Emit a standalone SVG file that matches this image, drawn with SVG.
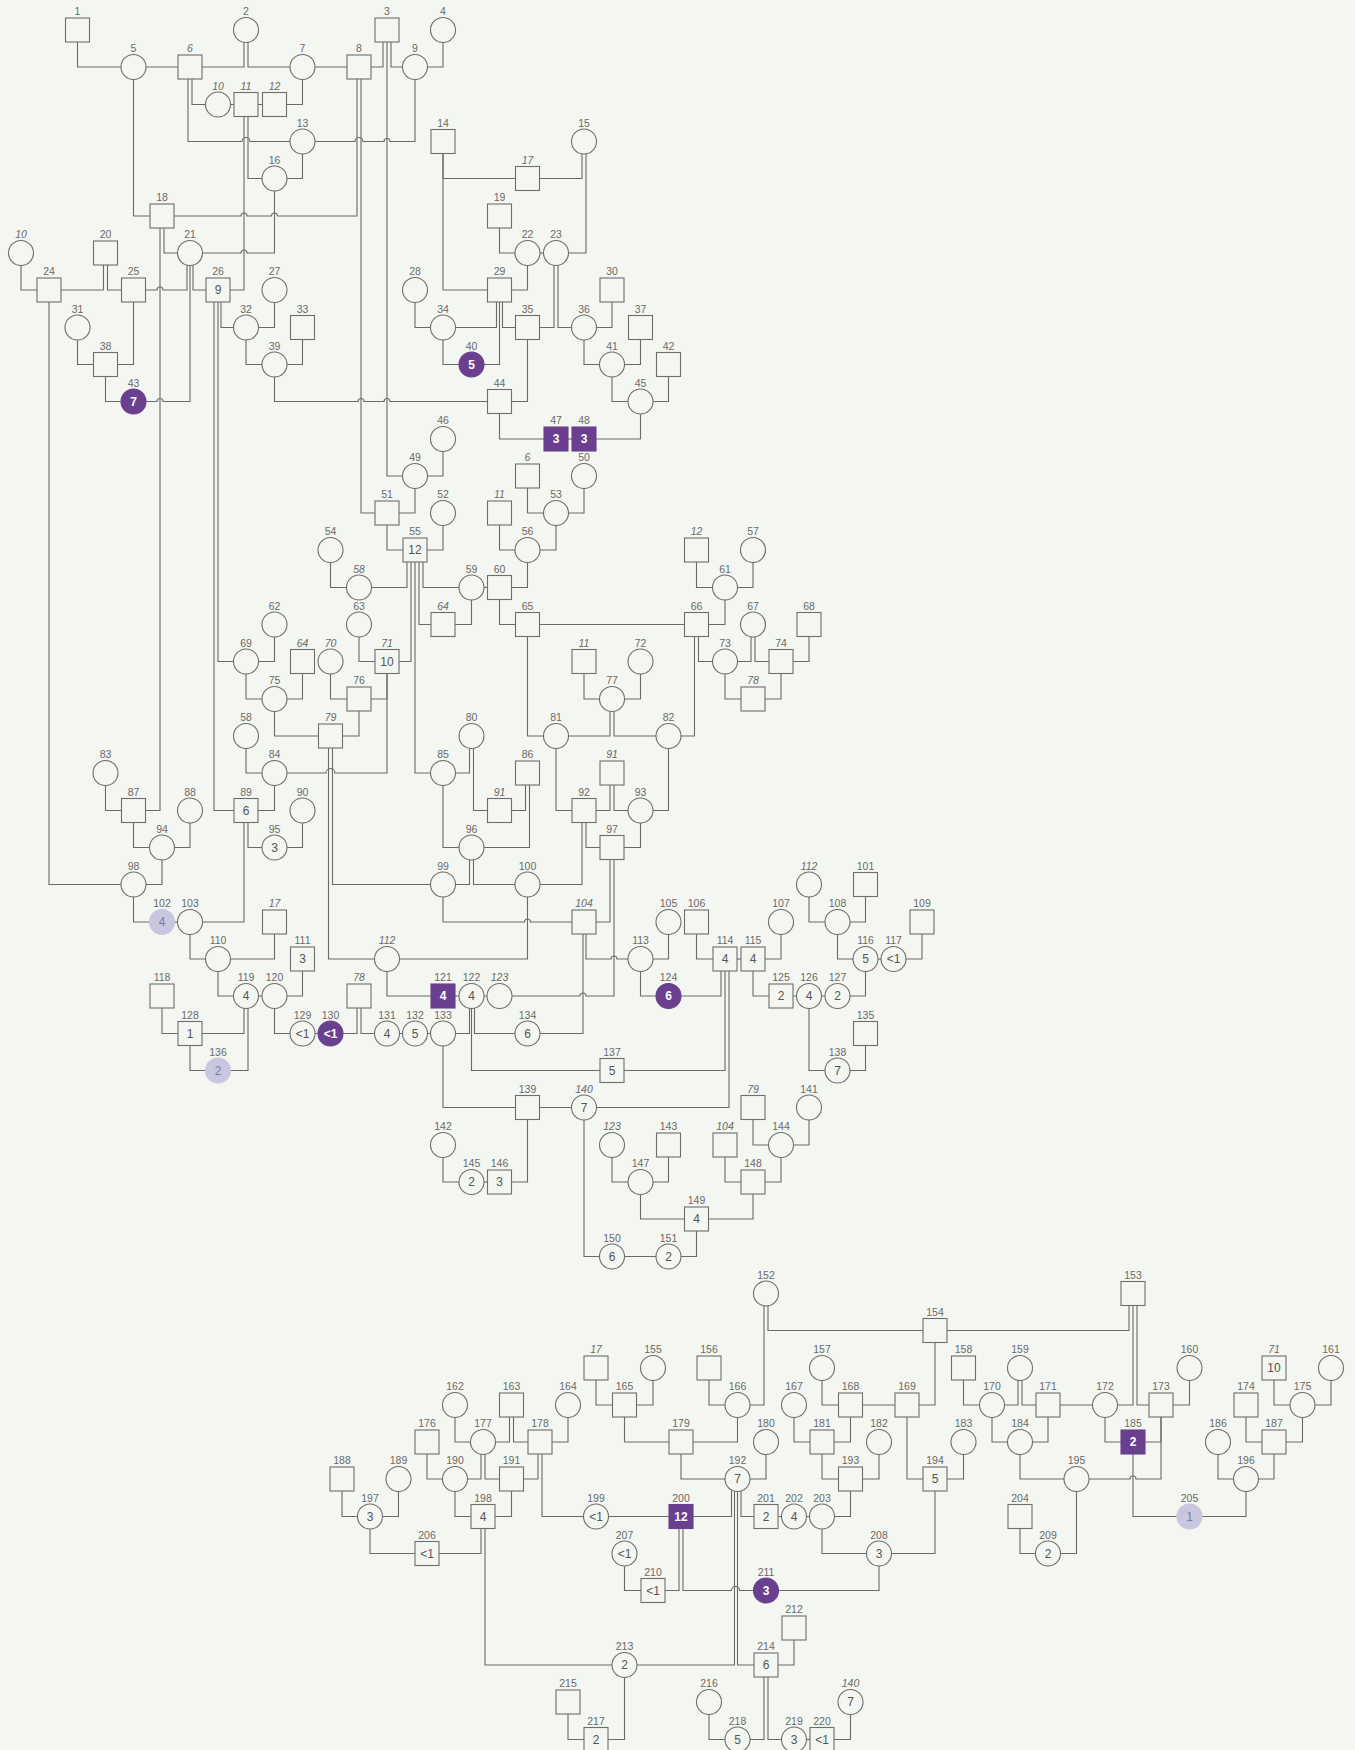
<svg xmlns="http://www.w3.org/2000/svg" xmlns:xlink="http://www.w3.org/1999/xlink" width="1355" height="1750" viewBox="0 0 1355 1750">
<style>
.bg{fill:#f4f6f1}
#links path{fill:none;stroke:#6a6a6a;stroke-width:1.1}
use{fill:#f4f6f1;stroke:#6e6e6e;stroke-width:1.1}
use.pp{fill:#6b3f8f;stroke:#6b3f8f}
use.lv{fill:#c9c7df;stroke:#c9c7df}
text{font-family:"Liberation Sans",Arial,sans-serif;font-size:10.5px;fill:#6a6a6a;text-anchor:middle}
text.i{font-style:italic}
text.v{font-size:12px;fill:#555}
text.w{font-size:12px;fill:#fff;font-weight:bold}
text.lt{font-size:12px;fill:#7c7aa2}
</style>
<defs>
<rect id="S" x="-12" y="-12" width="24" height="24"/>
<circle id="C" r="12.5"/>
</defs>
<rect class="bg" x="0" y="0" width="1355" height="1750"/>
<g id="links">
<path d="M77.5 30V67H133.5"/>
<path d="M133.5 67H190"/>
<path d="M244 30V67H190"/>
<path d="M248 30V67H302.5"/>
<path d="M302.5 67H359"/>
<path d="M383 30V67H359"/>
<path d="M391 30V67H415"/>
<path d="M387 30V476H415"/>
<path d="M443 30V67H415"/>
<path d="M192 67V104.5H218"/>
<path d="M188 67V141.5H242a4 4 0 0 1 8 0H302.5"/>
<path d="M218 104.5H274.5"/>
<path d="M302.5 67V104.5H274.5"/>
<path d="M248 104.5V178.5H274.5"/>
<path d="M244 104.5V290H218"/>
<path d="M415 67V141.5H390a3 3 0 0 0 -6 0H363a4 4 0 0 0 -8 0H302.5"/>
<path d="M302.5 141.5V178.5H274.5"/>
<path d="M274.5 178.5V253H247a3 3 0 0 0 -6 0H190"/>
<path d="M133.5 67V216H162"/>
<path d="M357 67V216H277.5a3 3 0 0 0 -6 0H247a3 3 0 0 0 -6 0H162"/>
<path d="M361 67V513H387"/>
<path d="M164 216V253H190"/>
<path d="M160 216V810.5H133.5"/>
<path d="M187 253V290H163a3 3 0 0 0 -6 0H133.5"/>
<path d="M190 253V401.5H163a3 3 0 0 0 -6 0H133.5"/>
<path d="M193 253V290H218"/>
<path d="M21 253V290H49"/>
<path d="M103.5 253V290H49"/>
<path d="M107.5 253V290H133.5"/>
<path d="M49 290V884.5H133.5"/>
<path d="M77.5 327.5V364.5H105.5"/>
<path d="M133.5 290V364.5H105.5"/>
<path d="M105.5 364.5V401.5H133.5"/>
<path d="M221 290V327.5H246"/>
<path d="M218 290V661.5H246"/>
<path d="M214 290V810.5H246"/>
<path d="M274.5 290V327.5H246"/>
<path d="M246 327.5V364.5H274.5"/>
<path d="M302.5 327.5V364.5H274.5"/>
<path d="M274.5 364.5V401.5H358a3 3 0 0 1 6 0H384a3 3 0 0 1 6 0H499.5"/>
<path d="M443 141.5V178.5H527.5"/>
<path d="M443 141.5V290H499.5"/>
<path d="M582 141.5V178.5H527.5"/>
<path d="M586 141.5V253H556"/>
<path d="M499.5 216V253H527.5"/>
<path d="M527.5 253H556"/>
<path d="M527.5 253V290H499.5"/>
<path d="M554 253V327.5H527.5"/>
<path d="M558 253V327.5H584"/>
<path d="M415 290V327.5H443"/>
<path d="M496.5 290V327.5H443"/>
<path d="M499.5 290V364.5H471.5"/>
<path d="M502.5 290V327.5H527.5"/>
<path d="M443 327.5V364.5H471.5"/>
<path d="M612 290V327.5H584"/>
<path d="M584 327.5V364.5H612"/>
<path d="M640.5 327.5V364.5H612"/>
<path d="M612 364.5V401.5H640.5"/>
<path d="M668.5 364.5V401.5H640.5"/>
<path d="M527.5 327.5V401.5H499.5"/>
<path d="M499.5 401.5V439H556"/>
<path d="M556 439H584"/>
<path d="M640.5 401.5V439H584"/>
<path d="M443 439V476H415"/>
<path d="M415 476V513H387"/>
<path d="M387 513V550H415"/>
<path d="M443 513V550H415"/>
<path d="M407 550V587.5H359"/>
<path d="M411 550V661.5H387"/>
<path d="M415 550V773H443"/>
<path d="M419 550V624.5H443"/>
<path d="M423 550V587.5H471.5"/>
<path d="M330.5 550V587.5H359"/>
<path d="M527.5 476V513H556"/>
<path d="M584 476V513H556"/>
<path d="M499.5 513V550H527.5"/>
<path d="M556 513V550H527.5"/>
<path d="M527.5 550V587.5H499.5"/>
<path d="M471.5 587.5H499.5"/>
<path d="M471.5 587.5V624.5H443"/>
<path d="M499.5 587.5V624.5H527.5"/>
<path d="M527.5 624.5H696.5"/>
<path d="M696.5 550V587.5H725"/>
<path d="M753 550V587.5H725"/>
<path d="M725 587.5V624.5H696.5"/>
<path d="M698.5 624.5V661.5H725"/>
<path d="M694.5 624.5V736H668.5"/>
<path d="M751 624.5V661.5H725"/>
<path d="M755 624.5V661.5H781"/>
<path d="M809 624.5V661.5H781"/>
<path d="M725 661.5V699H753"/>
<path d="M781 661.5V699H753"/>
<path d="M527.5 624.5V736H556"/>
<path d="M584 661.5V699H612"/>
<path d="M640.5 661.5V699H612"/>
<path d="M610 699V736H556"/>
<path d="M614 699V736H668.5"/>
<path d="M556 736V810.5H584"/>
<path d="M668.5 736V810.5H640.5"/>
<path d="M610 773V810.5H584"/>
<path d="M614 773V810.5H640.5"/>
<path d="M586 810.5V847.5H612"/>
<path d="M582 810.5V884.5H527.5"/>
<path d="M640.5 810.5V847.5H612"/>
<path d="M610 847.5V922H584"/>
<path d="M614 847.5V996H586a3 3 0 0 0 -6 0H499.5"/>
<path d="M586 922V959H611a3 3 0 0 1 6 0H640.5"/>
<path d="M583 922V1033.5H527.5"/>
<path d="M443 773V847.5H471.5"/>
<path d="M469.5 736V773H443"/>
<path d="M473.5 736V810.5H499.5"/>
<path d="M525.5 773V810.5H499.5"/>
<path d="M529.5 773V847.5H471.5"/>
<path d="M469.5 847.5V884.5H443"/>
<path d="M473.5 847.5V884.5H527.5"/>
<path d="M443 884.5V922H524.5a3 3 0 0 1 6 0H584"/>
<path d="M527.5 884.5V959H387"/>
<path d="M332.5 736V884.5H443"/>
<path d="M328.5 736V959H387"/>
<path d="M387 661.5V773H335a4.5 4.5 0 0 0 -9 0H274.5"/>
<path d="M387 661.5V699H359"/>
<path d="M246 736V773H274.5"/>
<path d="M274.5 624.5V661.5H246"/>
<path d="M246 661.5V699H274.5"/>
<path d="M302.5 661.5V699H274.5"/>
<path d="M274.5 699V736H330.5"/>
<path d="M330.5 661.5V699H359"/>
<path d="M359 624.5V661.5H387"/>
<path d="M359 699V736H330.5"/>
<path d="M274.5 773V810.5H246"/>
<path d="M248 810.5V847.5H274.5"/>
<path d="M244 810.5V922H190"/>
<path d="M302.5 810.5V847.5H274.5"/>
<path d="M105.5 773V810.5H133.5"/>
<path d="M133.5 810.5V847.5H162"/>
<path d="M190 810.5V847.5H162"/>
<path d="M162 847.5V884.5H133.5"/>
<path d="M133.5 884.5V922H162"/>
<path d="M162 922H190"/>
<path d="M190 922V959H218"/>
<path d="M274.5 922V959H218"/>
<path d="M218 959V996H246"/>
<path d="M246 996H274.5"/>
<path d="M302.5 959V996H274.5"/>
<path d="M244 996V1033.5H190"/>
<path d="M248 996V1070.5H218"/>
<path d="M162 996V1033.5H190"/>
<path d="M190 1033.5V1070.5H218"/>
<path d="M274.5 996V1033.5H302.5"/>
<path d="M302.5 1033.5H330.5"/>
<path d="M357 996V1033.5H330.5"/>
<path d="M361 996V1033.5H387"/>
<path d="M387 1033.5H443"/>
<path d="M387 959V996H443"/>
<path d="M443 996H499.5"/>
<path d="M469.5 996V1033.5H443"/>
<path d="M471.5 996V1070.5H612"/>
<path d="M474.5 996V1033.5H527.5"/>
<path d="M443 1033.5V1107.5H527.5"/>
<path d="M527.5 1107.5H584"/>
<path d="M721 959V996H668.5"/>
<path d="M725 959V1070.5H612"/>
<path d="M729 959V1107.5H584"/>
<path d="M696.5 922V959H725"/>
<path d="M725 959H753"/>
<path d="M781 922V959H753"/>
<path d="M753 959V996H781"/>
<path d="M781 996H837.5"/>
<path d="M865.5 959V996H837.5"/>
<path d="M809 884.5V922H837.5"/>
<path d="M865.5 884.5V922H837.5"/>
<path d="M837.5 922V959H865.5"/>
<path d="M865.5 959H893.5"/>
<path d="M922 922V959H893.5"/>
<path d="M809 996V1070.5H837.5"/>
<path d="M865.5 1033.5V1070.5H837.5"/>
<path d="M668.5 922V959H640.5"/>
<path d="M640.5 959V996H668.5"/>
<path d="M527.5 1107.5V1182H499.5"/>
<path d="M443 1145V1182H471.5"/>
<path d="M471.5 1182H499.5"/>
<path d="M584 1107.5V1256.5H612"/>
<path d="M612 1256.5H668.5"/>
<path d="M696.5 1219V1256.5H668.5"/>
<path d="M612 1145V1182H640.5"/>
<path d="M668.5 1145V1182H640.5"/>
<path d="M640.5 1182V1219H696.5"/>
<path d="M753 1182V1219H696.5"/>
<path d="M725 1145V1182H753"/>
<path d="M781 1145V1182H753"/>
<path d="M753 1107.5V1145H781"/>
<path d="M809 1107.5V1145H781"/>
<path d="M768 1293.5V1330.5H935"/>
<path d="M764 1293.5V1405H737.5"/>
<path d="M1129 1293.5V1330.5H935"/>
<path d="M1133 1293.5V1405H1105"/>
<path d="M1137 1293.5V1405H1161"/>
<path d="M596 1368V1405H624.5"/>
<path d="M653 1368V1405H624.5"/>
<path d="M624.5 1405V1442H681"/>
<path d="M709 1368V1405H737.5"/>
<path d="M737.5 1405V1442H681"/>
<path d="M681 1442V1479H737.5"/>
<path d="M766 1442V1479H737.5"/>
<path d="M731.5 1479V1516.5H681"/>
<path d="M734.5 1479V1665H624.5"/>
<path d="M737.5 1479V1665H766"/>
<path d="M741 1479V1516.5H766"/>
<path d="M679 1516.5V1590.5H653"/>
<path d="M683 1516.5V1590.5H731.5a4 4 0 0 1 8 0H766"/>
<path d="M596 1516.5H681"/>
<path d="M542 1442V1516.5H596"/>
<path d="M538 1442V1479H511.5"/>
<path d="M624.5 1553.5V1590.5H653"/>
<path d="M766 1516.5H822"/>
<path d="M850.5 1479V1516.5H822"/>
<path d="M822 1442V1479H850.5"/>
<path d="M879 1442V1479H850.5"/>
<path d="M794 1405V1442H822"/>
<path d="M850.5 1405V1442H822"/>
<path d="M822 1368V1405H850.5"/>
<path d="M850.5 1405H907"/>
<path d="M935 1330.5V1405H907"/>
<path d="M907 1405V1479H935"/>
<path d="M963.5 1442V1479H935"/>
<path d="M935 1479V1553.5H879"/>
<path d="M822 1516.5V1553.5H879"/>
<path d="M879 1553.5V1590.5H766"/>
<path d="M794 1628V1665H766"/>
<path d="M481 1516.5V1553.5H427"/>
<path d="M485 1516.5V1665H624.5"/>
<path d="M370 1516.5V1553.5H427"/>
<path d="M342 1479V1516.5H370"/>
<path d="M398.5 1479V1516.5H370"/>
<path d="M455 1479V1516.5H483"/>
<path d="M511.5 1479V1516.5H483"/>
<path d="M427 1442V1479H455"/>
<path d="M481 1442V1479H455"/>
<path d="M485 1442V1479H511.5"/>
<path d="M455 1405V1442H483"/>
<path d="M509.5 1405V1442H483"/>
<path d="M513.5 1405V1442H540"/>
<path d="M568 1405V1442H540"/>
<path d="M624.5 1665V1739.5H596"/>
<path d="M568 1702V1739.5H596"/>
<path d="M764 1665V1739.5H737.5"/>
<path d="M768 1665V1739.5H794"/>
<path d="M709 1702V1739.5H737.5"/>
<path d="M794 1739.5H822"/>
<path d="M850.5 1702V1739.5H822"/>
<path d="M963.5 1368V1405H992"/>
<path d="M1018 1368V1405H992"/>
<path d="M1022 1368V1405H1048"/>
<path d="M992 1405V1442H1020"/>
<path d="M1048 1405V1442H1020"/>
<path d="M1048 1405H1105"/>
<path d="M1105 1405V1442H1133"/>
<path d="M1161 1405V1442H1133"/>
<path d="M1161 1405V1479H1136a3 3 0 0 0 -6 0H1076.5"/>
<path d="M1189.5 1368V1405H1161"/>
<path d="M1020 1442V1479H1076.5"/>
<path d="M1133 1442V1516.5H1189.5"/>
<path d="M1246 1479V1516.5H1189.5"/>
<path d="M1218 1442V1479H1246"/>
<path d="M1274 1442V1479H1246"/>
<path d="M1246 1405V1442H1274"/>
<path d="M1302.5 1405V1442H1274"/>
<path d="M1274 1368V1405H1302.5"/>
<path d="M1331 1368V1405H1302.5"/>
<path d="M1076.5 1479V1553.5H1048"/>
<path d="M1020 1516.5V1553.5H1048"/>
</g>
<g id="n1"><use href="#S" x="77.5" y="30"/><text x="77.5" y="15">1</text></g>
<g id="n2"><use href="#C" x="246" y="30"/><text x="246" y="15">2</text></g>
<g id="n3"><use href="#S" x="387" y="30"/><text x="387" y="15">3</text></g>
<g id="n4"><use href="#C" x="443" y="30"/><text x="443" y="15">4</text></g>
<g id="n5"><use href="#C" x="133.5" y="67"/><text x="133.5" y="52">5</text></g>
<g id="n6"><use href="#S" x="190" y="67"/><text class="i" x="190" y="52">6</text></g>
<g id="n7"><use href="#C" x="302.5" y="67"/><text x="302.5" y="52">7</text></g>
<g id="n8"><use href="#S" x="359" y="67"/><text x="359" y="52">8</text></g>
<g id="n9"><use href="#C" x="415" y="67"/><text x="415" y="52">9</text></g>
<g id="n10"><use href="#C" x="218" y="104.5"/><text class="i" x="218" y="89.5">10</text></g>
<g id="n11"><use href="#S" x="246" y="104.5"/><text class="i" x="246" y="89.5">11</text></g>
<g id="n12"><use href="#S" x="274.5" y="104.5"/><text class="i" x="274.5" y="89.5">12</text></g>
<g id="n13"><use href="#C" x="302.5" y="141.5"/><text x="302.5" y="126.5">13</text></g>
<g id="n14"><use href="#S" x="443" y="141.5"/><text x="443" y="126.5">14</text></g>
<g id="n15"><use href="#C" x="584" y="141.5"/><text x="584" y="126.5">15</text></g>
<g id="n16"><use href="#C" x="274.5" y="178.5"/><text x="274.5" y="163.5">16</text></g>
<g id="n17"><use href="#S" x="527.5" y="178.5"/><text class="i" x="527.5" y="163.5">17</text></g>
<g id="n18"><use href="#S" x="162" y="216"/><text x="162" y="201">18</text></g>
<g id="n19"><use href="#S" x="499.5" y="216"/><text x="499.5" y="201">19</text></g>
<g id="n10b"><use href="#C" x="21" y="253"/><text class="i" x="21" y="238">10</text></g>
<g id="n20"><use href="#S" x="105.5" y="253"/><text x="105.5" y="238">20</text></g>
<g id="n21"><use href="#C" x="190" y="253"/><text x="190" y="238">21</text></g>
<g id="n22"><use href="#C" x="527.5" y="253"/><text x="527.5" y="238">22</text></g>
<g id="n23"><use href="#C" x="556" y="253"/><text x="556" y="238">23</text></g>
<g id="n24"><use href="#S" x="49" y="290"/><text x="49" y="275">24</text></g>
<g id="n25"><use href="#S" x="133.5" y="290"/><text x="133.5" y="275">25</text></g>
<g id="n26"><use href="#S" x="218" y="290"/><text x="218" y="275">26</text><text class="v" x="218" y="294.2">9</text></g>
<g id="n27"><use href="#C" x="274.5" y="290"/><text x="274.5" y="275">27</text></g>
<g id="n28"><use href="#C" x="415" y="290"/><text x="415" y="275">28</text></g>
<g id="n29"><use href="#S" x="499.5" y="290"/><text x="499.5" y="275">29</text></g>
<g id="n30"><use href="#S" x="612" y="290"/><text x="612" y="275">30</text></g>
<g id="n31"><use href="#C" x="77.5" y="327.5"/><text x="77.5" y="312.5">31</text></g>
<g id="n32"><use href="#C" x="246" y="327.5"/><text x="246" y="312.5">32</text></g>
<g id="n33"><use href="#S" x="302.5" y="327.5"/><text x="302.5" y="312.5">33</text></g>
<g id="n34"><use href="#C" x="443" y="327.5"/><text x="443" y="312.5">34</text></g>
<g id="n35"><use href="#S" x="527.5" y="327.5"/><text x="527.5" y="312.5">35</text></g>
<g id="n36"><use href="#C" x="584" y="327.5"/><text x="584" y="312.5">36</text></g>
<g id="n37"><use href="#S" x="640.5" y="327.5"/><text x="640.5" y="312.5">37</text></g>
<g id="n38"><use href="#S" x="105.5" y="364.5"/><text x="105.5" y="349.5">38</text></g>
<g id="n39"><use href="#C" x="274.5" y="364.5"/><text x="274.5" y="349.5">39</text></g>
<g id="n40"><use class="pp" href="#C" x="471.5" y="364.5"/><text x="471.5" y="349.5">40</text><text class="w" x="471.5" y="368.7">5</text></g>
<g id="n41"><use href="#C" x="612" y="364.5"/><text x="612" y="349.5">41</text></g>
<g id="n42"><use href="#S" x="668.5" y="364.5"/><text x="668.5" y="349.5">42</text></g>
<g id="n43"><use class="pp" href="#C" x="133.5" y="401.5"/><text x="133.5" y="386.5">43</text><text class="w" x="133.5" y="405.7">7</text></g>
<g id="n44"><use href="#S" x="499.5" y="401.5"/><text x="499.5" y="386.5">44</text></g>
<g id="n45"><use href="#C" x="640.5" y="401.5"/><text x="640.5" y="386.5">45</text></g>
<g id="n46"><use href="#C" x="443" y="439"/><text x="443" y="424">46</text></g>
<g id="n47"><use class="pp" href="#S" x="556" y="439"/><text x="556" y="424">47</text><text class="w" x="556" y="443.2">3</text></g>
<g id="n48"><use class="pp" href="#S" x="584" y="439"/><text x="584" y="424">48</text><text class="w" x="584" y="443.2">3</text></g>
<g id="n49"><use href="#C" x="415" y="476"/><text x="415" y="461">49</text></g>
<g id="n6b"><use href="#S" x="527.5" y="476"/><text class="i" x="527.5" y="461">6</text></g>
<g id="n50"><use href="#C" x="584" y="476"/><text x="584" y="461">50</text></g>
<g id="n51"><use href="#S" x="387" y="513"/><text x="387" y="498">51</text></g>
<g id="n52"><use href="#C" x="443" y="513"/><text x="443" y="498">52</text></g>
<g id="n11b"><use href="#S" x="499.5" y="513"/><text class="i" x="499.5" y="498">11</text></g>
<g id="n53"><use href="#C" x="556" y="513"/><text x="556" y="498">53</text></g>
<g id="n54"><use href="#C" x="330.5" y="550"/><text x="330.5" y="535">54</text></g>
<g id="n55"><use href="#S" x="415" y="550"/><text x="415" y="535">55</text><text class="v" x="415" y="554.2">12</text></g>
<g id="n56"><use href="#C" x="527.5" y="550"/><text x="527.5" y="535">56</text></g>
<g id="n12b"><use href="#S" x="696.5" y="550"/><text class="i" x="696.5" y="535">12</text></g>
<g id="n57"><use href="#C" x="753" y="550"/><text x="753" y="535">57</text></g>
<g id="n58b"><use href="#C" x="359" y="587.5"/><text class="i" x="359" y="572.5">58</text></g>
<g id="n59"><use href="#C" x="471.5" y="587.5"/><text x="471.5" y="572.5">59</text></g>
<g id="n60"><use href="#S" x="499.5" y="587.5"/><text x="499.5" y="572.5">60</text></g>
<g id="n61"><use href="#C" x="725" y="587.5"/><text x="725" y="572.5">61</text></g>
<g id="n62"><use href="#C" x="274.5" y="624.5"/><text x="274.5" y="609.5">62</text></g>
<g id="n63"><use href="#C" x="359" y="624.5"/><text x="359" y="609.5">63</text></g>
<g id="n64b"><use href="#S" x="443" y="624.5"/><text class="i" x="443" y="609.5">64</text></g>
<g id="n65"><use href="#S" x="527.5" y="624.5"/><text x="527.5" y="609.5">65</text></g>
<g id="n66"><use href="#S" x="696.5" y="624.5"/><text x="696.5" y="609.5">66</text></g>
<g id="n67"><use href="#C" x="753" y="624.5"/><text x="753" y="609.5">67</text></g>
<g id="n68"><use href="#S" x="809" y="624.5"/><text x="809" y="609.5">68</text></g>
<g id="n69"><use href="#C" x="246" y="661.5"/><text x="246" y="646.5">69</text></g>
<g id="n64"><use href="#S" x="302.5" y="661.5"/><text class="i" x="302.5" y="646.5">64</text></g>
<g id="n70"><use href="#C" x="330.5" y="661.5"/><text class="i" x="330.5" y="646.5">70</text></g>
<g id="n71"><use href="#S" x="387" y="661.5"/><text class="i" x="387" y="646.5">71</text><text class="v" x="387" y="665.7">10</text></g>
<g id="n11c"><use href="#S" x="584" y="661.5"/><text class="i" x="584" y="646.5">11</text></g>
<g id="n72"><use href="#C" x="640.5" y="661.5"/><text x="640.5" y="646.5">72</text></g>
<g id="n73"><use href="#C" x="725" y="661.5"/><text x="725" y="646.5">73</text></g>
<g id="n74"><use href="#S" x="781" y="661.5"/><text x="781" y="646.5">74</text></g>
<g id="n75"><use href="#C" x="274.5" y="699"/><text x="274.5" y="684">75</text></g>
<g id="n76"><use href="#S" x="359" y="699"/><text x="359" y="684">76</text></g>
<g id="n77"><use href="#C" x="612" y="699"/><text x="612" y="684">77</text></g>
<g id="n78b"><use href="#S" x="753" y="699"/><text class="i" x="753" y="684">78</text></g>
<g id="n58"><use href="#C" x="246" y="736"/><text x="246" y="721">58</text></g>
<g id="n79"><use href="#S" x="330.5" y="736"/><text class="i" x="330.5" y="721">79</text></g>
<g id="n80"><use href="#C" x="471.5" y="736"/><text x="471.5" y="721">80</text></g>
<g id="n81"><use href="#C" x="556" y="736"/><text x="556" y="721">81</text></g>
<g id="n82"><use href="#C" x="668.5" y="736"/><text x="668.5" y="721">82</text></g>
<g id="n83"><use href="#C" x="105.5" y="773"/><text x="105.5" y="758">83</text></g>
<g id="n84"><use href="#C" x="274.5" y="773"/><text x="274.5" y="758">84</text></g>
<g id="n85"><use href="#C" x="443" y="773"/><text x="443" y="758">85</text></g>
<g id="n86"><use href="#S" x="527.5" y="773"/><text x="527.5" y="758">86</text></g>
<g id="n91b"><use href="#S" x="612" y="773"/><text class="i" x="612" y="758">91</text></g>
<g id="n87"><use href="#S" x="133.5" y="810.5"/><text x="133.5" y="795.5">87</text></g>
<g id="n88"><use href="#C" x="190" y="810.5"/><text x="190" y="795.5">88</text></g>
<g id="n89"><use href="#S" x="246" y="810.5"/><text x="246" y="795.5">89</text><text class="v" x="246" y="814.7">6</text></g>
<g id="n90"><use href="#C" x="302.5" y="810.5"/><text x="302.5" y="795.5">90</text></g>
<g id="n91"><use href="#S" x="499.5" y="810.5"/><text class="i" x="499.5" y="795.5">91</text></g>
<g id="n92"><use href="#S" x="584" y="810.5"/><text x="584" y="795.5">92</text></g>
<g id="n93"><use href="#C" x="640.5" y="810.5"/><text x="640.5" y="795.5">93</text></g>
<g id="n94"><use href="#C" x="162" y="847.5"/><text x="162" y="832.5">94</text></g>
<g id="n95"><use href="#C" x="274.5" y="847.5"/><text x="274.5" y="832.5">95</text><text class="v" x="274.5" y="851.7">3</text></g>
<g id="n96"><use href="#C" x="471.5" y="847.5"/><text x="471.5" y="832.5">96</text></g>
<g id="n97"><use href="#S" x="612" y="847.5"/><text x="612" y="832.5">97</text></g>
<g id="n98"><use href="#C" x="133.5" y="884.5"/><text x="133.5" y="869.5">98</text></g>
<g id="n99"><use href="#C" x="443" y="884.5"/><text x="443" y="869.5">99</text></g>
<g id="n100"><use href="#C" x="527.5" y="884.5"/><text x="527.5" y="869.5">100</text></g>
<g id="n112c"><use href="#C" x="809" y="884.5"/><text class="i" x="809" y="869.5">112</text></g>
<g id="n101"><use href="#S" x="865.5" y="884.5"/><text x="865.5" y="869.5">101</text></g>
<g id="n102"><use class="lv" href="#C" x="162" y="922"/><text x="162" y="907">102</text><text class="lt" x="162" y="926.2">4</text></g>
<g id="n103"><use href="#C" x="190" y="922"/><text x="190" y="907">103</text></g>
<g id="n17b"><use href="#S" x="274.5" y="922"/><text class="i" x="274.5" y="907">17</text></g>
<g id="n104"><use href="#S" x="584" y="922"/><text class="i" x="584" y="907">104</text></g>
<g id="n105"><use href="#C" x="668.5" y="922"/><text x="668.5" y="907">105</text></g>
<g id="n106"><use href="#S" x="696.5" y="922"/><text x="696.5" y="907">106</text></g>
<g id="n107"><use href="#C" x="781" y="922"/><text x="781" y="907">107</text></g>
<g id="n108"><use href="#C" x="837.5" y="922"/><text x="837.5" y="907">108</text></g>
<g id="n109"><use href="#S" x="922" y="922"/><text x="922" y="907">109</text></g>
<g id="n110"><use href="#C" x="218" y="959"/><text x="218" y="944">110</text></g>
<g id="n111"><use href="#S" x="302.5" y="959"/><text x="302.5" y="944">111</text><text class="v" x="302.5" y="963.2">3</text></g>
<g id="n112"><use href="#C" x="387" y="959"/><text class="i" x="387" y="944">112</text></g>
<g id="n113"><use href="#C" x="640.5" y="959"/><text x="640.5" y="944">113</text></g>
<g id="n114"><use href="#S" x="725" y="959"/><text x="725" y="944">114</text><text class="v" x="725" y="963.2">4</text></g>
<g id="n115"><use href="#S" x="753" y="959"/><text x="753" y="944">115</text><text class="v" x="753" y="963.2">4</text></g>
<g id="n116"><use href="#C" x="865.5" y="959"/><text x="865.5" y="944">116</text><text class="v" x="865.5" y="963.2">5</text></g>
<g id="n117"><use href="#C" x="893.5" y="959"/><text x="893.5" y="944">117</text><text class="v" x="893.5" y="963.2">&lt;1</text></g>
<g id="n118"><use href="#S" x="162" y="996"/><text x="162" y="981">118</text></g>
<g id="n119"><use href="#C" x="246" y="996"/><text x="246" y="981">119</text><text class="v" x="246" y="1000.2">4</text></g>
<g id="n120"><use href="#C" x="274.5" y="996"/><text x="274.5" y="981">120</text></g>
<g id="n78"><use href="#S" x="359" y="996"/><text class="i" x="359" y="981">78</text></g>
<g id="n121"><use class="pp" href="#S" x="443" y="996"/><text x="443" y="981">121</text><text class="w" x="443" y="1000.2">4</text></g>
<g id="n122"><use href="#C" x="471.5" y="996"/><text x="471.5" y="981">122</text><text class="v" x="471.5" y="1000.2">4</text></g>
<g id="n123"><use href="#C" x="499.5" y="996"/><text class="i" x="499.5" y="981">123</text></g>
<g id="n124"><use class="pp" href="#C" x="668.5" y="996"/><text x="668.5" y="981">124</text><text class="w" x="668.5" y="1000.2">6</text></g>
<g id="n125"><use href="#S" x="781" y="996"/><text x="781" y="981">125</text><text class="v" x="781" y="1000.2">2</text></g>
<g id="n126"><use href="#C" x="809" y="996"/><text x="809" y="981">126</text><text class="v" x="809" y="1000.2">4</text></g>
<g id="n127"><use href="#C" x="837.5" y="996"/><text x="837.5" y="981">127</text><text class="v" x="837.5" y="1000.2">2</text></g>
<g id="n128"><use href="#S" x="190" y="1033.5"/><text x="190" y="1018.5">128</text><text class="v" x="190" y="1037.7">1</text></g>
<g id="n129"><use href="#C" x="302.5" y="1033.5"/><text x="302.5" y="1018.5">129</text><text class="v" x="302.5" y="1037.7">&lt;1</text></g>
<g id="n130"><use class="pp" href="#C" x="330.5" y="1033.5"/><text x="330.5" y="1018.5">130</text><text class="w" x="330.5" y="1037.7">&lt;1</text></g>
<g id="n131"><use href="#C" x="387" y="1033.5"/><text x="387" y="1018.5">131</text><text class="v" x="387" y="1037.7">4</text></g>
<g id="n132"><use href="#C" x="415" y="1033.5"/><text x="415" y="1018.5">132</text><text class="v" x="415" y="1037.7">5</text></g>
<g id="n133"><use href="#C" x="443" y="1033.5"/><text x="443" y="1018.5">133</text></g>
<g id="n134"><use href="#C" x="527.5" y="1033.5"/><text x="527.5" y="1018.5">134</text><text class="v" x="527.5" y="1037.7">6</text></g>
<g id="n135"><use href="#S" x="865.5" y="1033.5"/><text x="865.5" y="1018.5">135</text></g>
<g id="n136"><use class="lv" href="#C" x="218" y="1070.5"/><text x="218" y="1055.5">136</text><text class="lt" x="218" y="1074.7">2</text></g>
<g id="n137"><use href="#S" x="612" y="1070.5"/><text x="612" y="1055.5">137</text><text class="v" x="612" y="1074.7">5</text></g>
<g id="n138"><use href="#C" x="837.5" y="1070.5"/><text x="837.5" y="1055.5">138</text><text class="v" x="837.5" y="1074.7">7</text></g>
<g id="n139"><use href="#S" x="527.5" y="1107.5"/><text x="527.5" y="1092.5">139</text></g>
<g id="n140"><use href="#C" x="584" y="1107.5"/><text class="i" x="584" y="1092.5">140</text><text class="v" x="584" y="1111.7">7</text></g>
<g id="n79b"><use href="#S" x="753" y="1107.5"/><text class="i" x="753" y="1092.5">79</text></g>
<g id="n141"><use href="#C" x="809" y="1107.5"/><text x="809" y="1092.5">141</text></g>
<g id="n142"><use href="#C" x="443" y="1145"/><text x="443" y="1130">142</text></g>
<g id="n123b"><use href="#C" x="612" y="1145"/><text class="i" x="612" y="1130">123</text></g>
<g id="n143"><use href="#S" x="668.5" y="1145"/><text x="668.5" y="1130">143</text></g>
<g id="n104b"><use href="#S" x="725" y="1145"/><text class="i" x="725" y="1130">104</text></g>
<g id="n144"><use href="#C" x="781" y="1145"/><text x="781" y="1130">144</text></g>
<g id="n145"><use href="#C" x="471.5" y="1182"/><text x="471.5" y="1167">145</text><text class="v" x="471.5" y="1186.2">2</text></g>
<g id="n146"><use href="#S" x="499.5" y="1182"/><text x="499.5" y="1167">146</text><text class="v" x="499.5" y="1186.2">3</text></g>
<g id="n147"><use href="#C" x="640.5" y="1182"/><text x="640.5" y="1167">147</text></g>
<g id="n148"><use href="#S" x="753" y="1182"/><text x="753" y="1167">148</text></g>
<g id="n149"><use href="#S" x="696.5" y="1219"/><text x="696.5" y="1204">149</text><text class="v" x="696.5" y="1223.2">4</text></g>
<g id="n150"><use href="#C" x="612" y="1256.5"/><text x="612" y="1241.5">150</text><text class="v" x="612" y="1260.7">6</text></g>
<g id="n151"><use href="#C" x="668.5" y="1256.5"/><text x="668.5" y="1241.5">151</text><text class="v" x="668.5" y="1260.7">2</text></g>
<g id="n152"><use href="#C" x="766" y="1293.5"/><text x="766" y="1278.5">152</text></g>
<g id="n153"><use href="#S" x="1133" y="1293.5"/><text x="1133" y="1278.5">153</text></g>
<g id="n154"><use href="#S" x="935" y="1330.5"/><text x="935" y="1315.5">154</text></g>
<g id="n17c"><use href="#S" x="596" y="1368"/><text class="i" x="596" y="1353">17</text></g>
<g id="n155"><use href="#C" x="653" y="1368"/><text x="653" y="1353">155</text></g>
<g id="n156"><use href="#S" x="709" y="1368"/><text x="709" y="1353">156</text></g>
<g id="n157"><use href="#C" x="822" y="1368"/><text x="822" y="1353">157</text></g>
<g id="n158"><use href="#S" x="963.5" y="1368"/><text x="963.5" y="1353">158</text></g>
<g id="n159"><use href="#C" x="1020" y="1368"/><text x="1020" y="1353">159</text></g>
<g id="n160"><use href="#C" x="1189.5" y="1368"/><text x="1189.5" y="1353">160</text></g>
<g id="n71b"><use href="#S" x="1274" y="1368"/><text class="i" x="1274" y="1353">71</text><text class="v" x="1274" y="1372.2">10</text></g>
<g id="n161"><use href="#C" x="1331" y="1368"/><text x="1331" y="1353">161</text></g>
<g id="n162"><use href="#C" x="455" y="1405"/><text x="455" y="1390">162</text></g>
<g id="n163"><use href="#S" x="511.5" y="1405"/><text x="511.5" y="1390">163</text></g>
<g id="n164"><use href="#C" x="568" y="1405"/><text x="568" y="1390">164</text></g>
<g id="n165"><use href="#S" x="624.5" y="1405"/><text x="624.5" y="1390">165</text></g>
<g id="n166"><use href="#C" x="737.5" y="1405"/><text x="737.5" y="1390">166</text></g>
<g id="n167"><use href="#C" x="794" y="1405"/><text x="794" y="1390">167</text></g>
<g id="n168"><use href="#S" x="850.5" y="1405"/><text x="850.5" y="1390">168</text></g>
<g id="n169"><use href="#S" x="907" y="1405"/><text x="907" y="1390">169</text></g>
<g id="n170"><use href="#C" x="992" y="1405"/><text x="992" y="1390">170</text></g>
<g id="n171"><use href="#S" x="1048" y="1405"/><text x="1048" y="1390">171</text></g>
<g id="n172"><use href="#C" x="1105" y="1405"/><text x="1105" y="1390">172</text></g>
<g id="n173"><use href="#S" x="1161" y="1405"/><text x="1161" y="1390">173</text></g>
<g id="n174"><use href="#S" x="1246" y="1405"/><text x="1246" y="1390">174</text></g>
<g id="n175"><use href="#C" x="1302.5" y="1405"/><text x="1302.5" y="1390">175</text></g>
<g id="n176"><use href="#S" x="427" y="1442"/><text x="427" y="1427">176</text></g>
<g id="n177"><use href="#C" x="483" y="1442"/><text x="483" y="1427">177</text></g>
<g id="n178"><use href="#S" x="540" y="1442"/><text x="540" y="1427">178</text></g>
<g id="n179"><use href="#S" x="681" y="1442"/><text x="681" y="1427">179</text></g>
<g id="n180"><use href="#C" x="766" y="1442"/><text x="766" y="1427">180</text></g>
<g id="n181"><use href="#S" x="822" y="1442"/><text x="822" y="1427">181</text></g>
<g id="n182"><use href="#C" x="879" y="1442"/><text x="879" y="1427">182</text></g>
<g id="n183"><use href="#C" x="963.5" y="1442"/><text x="963.5" y="1427">183</text></g>
<g id="n184"><use href="#C" x="1020" y="1442"/><text x="1020" y="1427">184</text></g>
<g id="n185"><use class="pp" href="#S" x="1133" y="1442"/><text x="1133" y="1427">185</text><text class="w" x="1133" y="1446.2">2</text></g>
<g id="n186"><use href="#C" x="1218" y="1442"/><text x="1218" y="1427">186</text></g>
<g id="n187"><use href="#S" x="1274" y="1442"/><text x="1274" y="1427">187</text></g>
<g id="n188"><use href="#S" x="342" y="1479"/><text x="342" y="1464">188</text></g>
<g id="n189"><use href="#C" x="398.5" y="1479"/><text x="398.5" y="1464">189</text></g>
<g id="n190"><use href="#C" x="455" y="1479"/><text x="455" y="1464">190</text></g>
<g id="n191"><use href="#S" x="511.5" y="1479"/><text x="511.5" y="1464">191</text></g>
<g id="n192"><use href="#C" x="737.5" y="1479"/><text x="737.5" y="1464">192</text><text class="v" x="737.5" y="1483.2">7</text></g>
<g id="n193"><use href="#S" x="850.5" y="1479"/><text x="850.5" y="1464">193</text></g>
<g id="n194"><use href="#S" x="935" y="1479"/><text x="935" y="1464">194</text><text class="v" x="935" y="1483.2">5</text></g>
<g id="n195"><use href="#C" x="1076.5" y="1479"/><text x="1076.5" y="1464">195</text></g>
<g id="n196"><use href="#C" x="1246" y="1479"/><text x="1246" y="1464">196</text></g>
<g id="n197"><use href="#C" x="370" y="1516.5"/><text x="370" y="1501.5">197</text><text class="v" x="370" y="1520.7">3</text></g>
<g id="n198"><use href="#S" x="483" y="1516.5"/><text x="483" y="1501.5">198</text><text class="v" x="483" y="1520.7">4</text></g>
<g id="n199"><use href="#C" x="596" y="1516.5"/><text x="596" y="1501.5">199</text><text class="v" x="596" y="1520.7">&lt;1</text></g>
<g id="n200"><use class="pp" href="#S" x="681" y="1516.5"/><text x="681" y="1501.5">200</text><text class="w" x="681" y="1520.7">12</text></g>
<g id="n201"><use href="#S" x="766" y="1516.5"/><text x="766" y="1501.5">201</text><text class="v" x="766" y="1520.7">2</text></g>
<g id="n202"><use href="#C" x="794" y="1516.5"/><text x="794" y="1501.5">202</text><text class="v" x="794" y="1520.7">4</text></g>
<g id="n203"><use href="#C" x="822" y="1516.5"/><text x="822" y="1501.5">203</text></g>
<g id="n204"><use href="#S" x="1020" y="1516.5"/><text x="1020" y="1501.5">204</text></g>
<g id="n205"><use class="lv" href="#C" x="1189.5" y="1516.5"/><text x="1189.5" y="1501.5">205</text><text class="lt" x="1189.5" y="1520.7">1</text></g>
<g id="n206"><use href="#S" x="427" y="1553.5"/><text x="427" y="1538.5">206</text><text class="v" x="427" y="1557.7">&lt;1</text></g>
<g id="n207"><use href="#C" x="624.5" y="1553.5"/><text x="624.5" y="1538.5">207</text><text class="v" x="624.5" y="1557.7">&lt;1</text></g>
<g id="n208"><use href="#C" x="879" y="1553.5"/><text x="879" y="1538.5">208</text><text class="v" x="879" y="1557.7">3</text></g>
<g id="n209"><use href="#C" x="1048" y="1553.5"/><text x="1048" y="1538.5">209</text><text class="v" x="1048" y="1557.7">2</text></g>
<g id="n210"><use href="#S" x="653" y="1590.5"/><text x="653" y="1575.5">210</text><text class="v" x="653" y="1594.7">&lt;1</text></g>
<g id="n211"><use class="pp" href="#C" x="766" y="1590.5"/><text x="766" y="1575.5">211</text><text class="w" x="766" y="1594.7">3</text></g>
<g id="n212"><use href="#S" x="794" y="1628"/><text x="794" y="1613">212</text></g>
<g id="n213"><use href="#C" x="624.5" y="1665"/><text x="624.5" y="1650">213</text><text class="v" x="624.5" y="1669.2">2</text></g>
<g id="n214"><use href="#S" x="766" y="1665"/><text x="766" y="1650">214</text><text class="v" x="766" y="1669.2">6</text></g>
<g id="n215"><use href="#S" x="568" y="1702"/><text x="568" y="1687">215</text></g>
<g id="n216"><use href="#C" x="709" y="1702"/><text x="709" y="1687">216</text></g>
<g id="n140b"><use href="#C" x="850.5" y="1702"/><text class="i" x="850.5" y="1687">140</text><text class="v" x="850.5" y="1706.2">7</text></g>
<g id="n217"><use href="#S" x="596" y="1739.5"/><text x="596" y="1724.5">217</text><text class="v" x="596" y="1743.7">2</text></g>
<g id="n218"><use href="#C" x="737.5" y="1739.5"/><text x="737.5" y="1724.5">218</text><text class="v" x="737.5" y="1743.7">5</text></g>
<g id="n219"><use href="#C" x="794" y="1739.5"/><text x="794" y="1724.5">219</text><text class="v" x="794" y="1743.7">3</text></g>
<g id="n220"><use href="#S" x="822" y="1739.5"/><text x="822" y="1724.5">220</text><text class="v" x="822" y="1743.7">&lt;1</text></g>
</svg>
